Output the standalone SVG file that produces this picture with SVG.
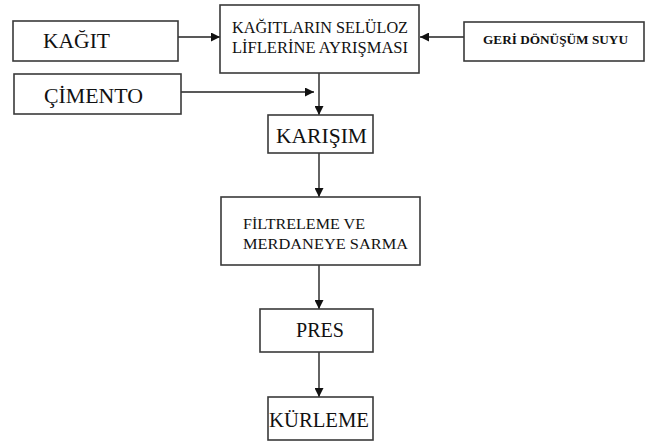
<svg xmlns="http://www.w3.org/2000/svg" width="658" height="444" viewBox="0 0 658 444">
  <defs>
    <marker id="arrow" viewBox="0 0 10 10" refX="10" refY="5" markerWidth="10" markerHeight="9" markerUnits="userSpaceOnUse" orient="auto">
      <path d="M0,0 L10,5 L0,10 z" fill="#111"/>
    </marker>
    <style>
      .box { fill: #ffffff; stroke: #3a3a3a; stroke-width: 1.6; }
      .lbl { font-family: "Liberation Serif", "Times New Roman", serif; fill: #111; }
      .edge { fill: none; stroke: #222; stroke-width: 1.4; marker-end: url(#arrow); }
    </style>
  </defs>
  <rect width="658" height="444" fill="#ffffff"/>

  <g id="connectors">
    <line class="edge" x1="178" y1="37" x2="220" y2="37"/>
    <line class="edge" x1="464" y1="37" x2="420" y2="37"/>
    <line class="edge" x1="181" y1="92" x2="314" y2="92"/>
    <line class="edge" x1="319" y1="73" x2="319" y2="115"/>
    <line class="edge" x1="319" y1="153" x2="319" y2="197"/>
    <line class="edge" x1="319" y1="265" x2="319" y2="309"/>
    <line class="edge" x1="319" y1="352" x2="319" y2="397"/>
  </g>

  <g id="kagit">
    <rect class="box" x="13" y="21" width="165" height="40"/>
    <text class="lbl" x="43" y="48" font-size="20" textLength="67" lengthAdjust="spacingAndGlyphs">KAĞIT</text>
  </g>

  <g id="cimento">
    <rect class="box" x="14" y="74" width="167" height="40"/>
    <text class="lbl" x="44" y="103" font-size="21" textLength="99" lengthAdjust="spacingAndGlyphs">ÇİMENTO</text>
  </g>

  <g id="ayrisma">
    <rect class="box" x="220" y="5" width="199" height="68"/>
    <text class="lbl" x="232" y="33" font-size="16" textLength="176" lengthAdjust="spacingAndGlyphs">KAĞITLARIN SELÜLOZ</text>
    <text class="lbl" x="232" y="53" font-size="16" textLength="176" lengthAdjust="spacingAndGlyphs">LİFLERİNE AYRIŞMASI</text>
  </g>

  <g id="geri-donusum">
    <rect class="box" x="464" y="22" width="180" height="39"/>
    <text class="lbl" x="483" y="44" font-size="12" font-weight="bold" textLength="145" lengthAdjust="spacingAndGlyphs">GERİ DÖNÜŞÜM SUYU</text>
  </g>

  <g id="karisim">
    <rect class="box" x="268" y="115" width="105" height="38"/>
    <text class="lbl" x="276" y="143" font-size="21" textLength="91" lengthAdjust="spacingAndGlyphs">KARIŞIM</text>
  </g>

  <g id="filtreleme">
    <rect class="box" x="221" y="197" width="199" height="68"/>
    <text class="lbl" x="243" y="229" font-size="15" textLength="122" lengthAdjust="spacingAndGlyphs">FİLTRELEME VE</text>
    <text class="lbl" x="243" y="249" font-size="15" textLength="165" lengthAdjust="spacingAndGlyphs">MERDANEYE SARMA</text>
  </g>

  <g id="pres">
    <rect class="box" x="260" y="309" width="113" height="43"/>
    <text class="lbl" x="296" y="337" font-size="20" textLength="48" lengthAdjust="spacingAndGlyphs">PRES</text>
  </g>

  <g id="kurleme">
    <rect class="box" x="268" y="397" width="105" height="43"/>
    <text class="lbl" x="269" y="427" font-size="21" textLength="100" lengthAdjust="spacingAndGlyphs">KÜRLEME</text>
  </g>
</svg>
